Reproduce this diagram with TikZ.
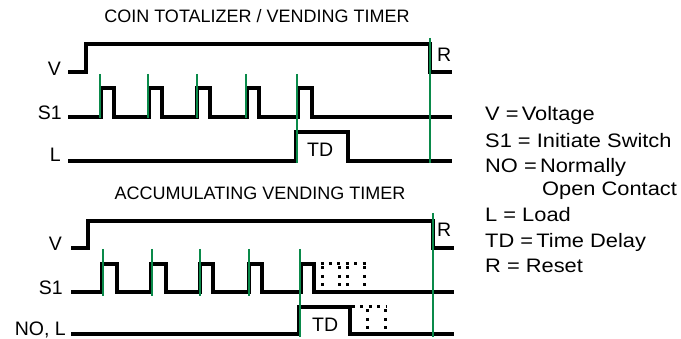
\documentclass[tikz,border=0pt]{standalone}
\usepackage{fontspec}
\setmainfont{Liberation Sans}
\newfontfamily\legfont[FakeStretch=1.12]{Liberation Sans}
\definecolor{sig}{HTML}{0A8A4A}
\begin{document}
\begin{tikzpicture}[x=1pt,y=-1pt,
  sigline/.style={line width=3.2pt, line join=miter, line cap=butt},
  greenline/.style={draw=sig, line width=2pt},
  dotline/.style={line width=3pt, dash pattern=on 3pt off 5.4pt},
  lbl/.style={font=\fontsize{19.5}{21}\selectfont, inner sep=0pt},
  ttl/.style={font=\fontsize{18}{20}\selectfont, inner sep=0pt, anchor=base},
  leg/.style={font=\legfont\fontsize{19.5}{22}\selectfont, inner sep=0pt, anchor=base west}]
\useasboundingbox (0,0) rectangle (681,339);
% ---------- top diagram ----------
\node[ttl] (t1) at (257,23) {COIN TOTALIZER / VENDING TIMER};
\node[lbl, anchor=base east] (v1) at (61,76) {V};
\node[lbl, anchor=base east] (s1a) at (62,120) {S1};
\node[lbl, anchor=base east] (l1) at (61,162) {L};
\node[lbl, anchor=base west] (r1) at (437,62) {R};
\node[lbl, anchor=base west] (td1) at (307,157) {TD};
\draw[sigline] (68,72) -- (86,72) -- (86,44) -- (430,44) -- (430,72) -- (452,72);
\draw[sigline] (68,117)
  -- (101,117) -- (101,88) -- (114,88) -- (114,117)
  -- (149,117) -- (149,88) -- (162,88) -- (162,117)
  -- (197,117) -- (197,88) -- (210,88) -- (210,117)
  -- (247,117) -- (247,88) -- (259,88) -- (259,117)
  -- (298,117) -- (298,88) -- (312,88) -- (312,117)
  -- (452,117);
\draw[sigline] (68,161) -- (296,161) -- (296,132) -- (348,132) -- (348,161) -- (452,161);
\foreach \x in {100,148,197,246}
  \draw[greenline] (\x,74) -- (\x,118);
\draw[greenline] (297,74) -- (297,163);
\draw[greenline] (430,38) -- (430,163);
% ---------- bottom diagram ----------
\node[ttl] (t2) at (260,200) {ACCUMULATING VENDING TIMER};
\node[lbl, anchor=base east] (v2) at (62,251) {V};
\node[lbl, anchor=base east] (s1b) at (63,295) {S1};
\node[lbl, anchor=base east] (l2) at (66,335.5) {NO, L};
\node[lbl, anchor=base west] (r2) at (437,237) {R};
\node[lbl, anchor=base west] (td2) at (312,332) {TD};
\draw[sigline] (71,248) -- (88,248) -- (88,221) -- (433,221) -- (433,248) -- (454,248);
\draw[sigline] (71,292)
  -- (102,292) -- (102,264) -- (117,264) -- (117,292)
  -- (151,292) -- (151,264) -- (166,264) -- (166,292)
  -- (200,292) -- (200,264) -- (213,264) -- (213,292)
  -- (249,292) -- (249,264) -- (262,264) -- (262,292)
  -- (301,292) -- (301,264) -- (314,264) -- (314,292)
  -- (454,292);
\draw[sigline] (71,334) -- (299,334) -- (299,307) -- (350,307) -- (350,334) -- (454,334);
% dotted repeats
\draw[dotline] (320.5,264) -- (366,264);
\foreach \x in {322,339,347,364}
  \draw[dotline] (\x,266.5) -- (\x,292);
\draw[dotline] (352,307) -- (387,307);
\foreach \x in {367,385}
  \draw[dotline] (\x,309.5) -- (\x,334);
\foreach \x in {102.5,151.5,200,248.5}
  \draw[greenline] (\x,249) -- (\x,296);
\draw[greenline] (300,249) -- (300,337);
\draw[greenline] (433,213) -- (433,337);
% ---------- legend ----------
\node[leg] (g1) at (485,121) {V =\,Voltage};
\node[leg] (g2) at (485,148) {S1 = Initiate Switch};
\node[leg] (g3) at (485,173) {NO =\,Normally};
\node[leg] (g4) at (542,196) {Open Contact};
\node[leg] (g5) at (485,222) {L = Load};
\node[leg] (g6) at (485,248) {TD =\,Time Delay};
\node[leg] (g7) at (485,273) {R = Reset};
\end{tikzpicture}
\end{document}
